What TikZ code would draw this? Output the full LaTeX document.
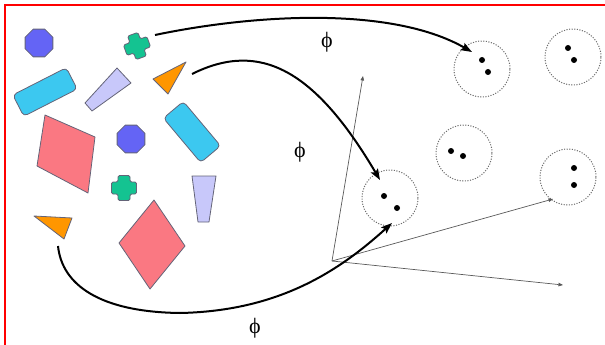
\documentclass[tikz,border=0pt]{standalone}
\usepackage{fontspec}
\setmainfont{Liberation Serif}
\usetikzlibrary{shapes.geometric,arrows.meta,calc}
\definecolor{octblue}{RGB}{100,100,245}
\definecolor{crossgreen}{RGB}{20,195,145}
\definecolor{barcyan}{RGB}{60,200,240}
\definecolor{trapviolet}{RGB}{200,200,250}
\definecolor{triorange}{RGB}{255,150,0}
\definecolor{quadpink}{RGB}{250,120,130}
\definecolor{edgegray}{RGB}{100,100,120}
\begin{document}
\begin{tikzpicture}[x=1pt,y=-1pt,
 shapeline/.style={draw=edgegray, line width=0.8pt, line join=round},
 octa/.style={shapeline, fill=octblue, regular polygon, regular polygon sides=8, minimum size=30pt, inner sep=0pt},
 bar/.style={shapeline, fill=barcyan, rectangle, rounded corners=4pt, minimum width=60pt, minimum height=24pt, inner sep=0pt},
 cluster/.style={circle, draw=gray!85!black, line width=1pt, dash pattern=on 1.1pt off 1.5pt, minimum size=56pt, inner sep=0pt},
 dotmark/.style={circle, fill=black, inner sep=0pt, minimum size=6pt},
 mapping/.style={line width=2pt, -{Stealth[length=11pt,width=8pt,inset=2pt]}},
 axisline/.style={draw=gray!70!black, line width=0.7pt, -{Triangle[length=4.5pt,width=3.5pt]}},
 philabel/.style={font=\fontsize{22}{22}\selectfont, inner sep=0pt}]
\useasboundingbox (0,0) rectangle (605,345);
% red frame (top and left)
\draw[red, line width=2.5pt] (5,345) -- (5,5.2) -- (605,5.2);

% shapes
\node[octa] (oct1) at (39,43) {};
\node[octa] (oct2) at (131,139) {};
\node[bar, rotate=27] (bar1) at (45,92) {};
\node[bar, rotate=-50, minimum width=58pt, minimum height=26pt] (bar2) at (192,132) {};
\begin{scope}[shift={(137,46)}, rotate=20]
  \filldraw[shapeline, fill=crossgreen, rounded corners=1.5pt]
   (-5.5,-12.5) -- (5.5,-12.5) -- (5.5,-5.5) -- (12.5,-5.5) -- (12.5,5.5) -- (5.5,5.5)
   -- (5.5,12.5) -- (-5.5,12.5) -- (-5.5,5.5) -- (-12.5,5.5) -- (-12.5,-5.5) -- (-5.5,-5.5) -- cycle;
\end{scope}
\begin{scope}[shift={(124,188)}]
  \filldraw[shapeline, fill=crossgreen, rounded corners=1.5pt]
   (-6,-12.5) -- (6,-12.5) -- (6,-6) -- (12.5,-6) -- (12.5,6) -- (6,6)
   -- (6,12.5) -- (-6,12.5) -- (-6,6) -- (-12.5,6) -- (-12.5,-6) -- (-6,-6) -- cycle;
\end{scope}
\filldraw[shapeline, fill=trapviolet] (117,68) -- (131,83) -- (92,111) -- (85,103) -- cycle;
\filldraw[shapeline, fill=trapviolet] (192,176) -- (216,176) -- (209,222) -- (198,222) -- cycle;
\filldraw[shapeline, fill=triorange] (153,79) -- (186,62) -- (168,94) -- cycle;
\filldraw[shapeline, fill=triorange] (34,216) -- (72,218) -- (64,239) -- cycle;
\filldraw[shapeline, fill=quadpink] (45,115) -- (95,137) -- (88,193) -- (37,166) -- cycle;
\filldraw[shapeline, fill=quadpink] (154,200) -- (185,246) -- (150,289) -- (119,243) -- cycle;

% feature space clusters
\node[cluster] (c1) at (482,69) {};
\node[cluster] (c2) at (573,57) {};
\node[cluster] (c3) at (464,153) {};
\node[cluster] (c4) at (568,177) {};
\node[cluster] (c5) at (390,198) {};
\node[dotmark] (d11) at (482,60) {};
\node[dotmark] (d12) at (488,72) {};
\node[dotmark] (d21) at (568,48) {};
\node[dotmark] (d22) at (574,60) {};
\node[dotmark] (d31) at (451,151) {};
\node[dotmark] (d32) at (463,156) {};
\node[dotmark] (d41) at (574,168) {};
\node[dotmark] (d42) at (574,185) {};
\node[dotmark] (d51) at (384,196) {};
\node[dotmark] (d52) at (397,208) {};

% axes
\coordinate (o) at (332,261);
\coordinate (ax1) at (363,76);
\coordinate (ax2) at (553,199);
\coordinate (ax3) at (563,285);
\draw[axisline] (o) -- (ax1);
\draw[axisline] (o) -- (ax2);
\draw[axisline] (o) -- (ax3);

% mappings
\coordinate (s1) at (155,35);
\coordinate (s2) at (192,74);
\coordinate (s3) at (58,246);
\coordinate (e1) at ($(c1)+(-10,-17)$);
\coordinate (e2) at ($(c5)+(-10,-18)$);
\coordinate (e3) at ($(c5)+(2,25)$);
\coordinate (m3) at (180,313);
\draw[mapping] (s1) .. controls (250,15) and (390,5) .. (e1);
\draw[mapping] (s2) .. controls (260,40) and (315,70) .. (e2);
\draw[mapping] (s3) .. controls (62,285) and (100,312) .. (m3)
   .. controls (280,311) and (340,270) .. (e3);

\node[philabel] (p1) at (327,42) {ϕ};
\node[philabel] (p2) at (300,152) {ϕ};
\node[philabel] (p3) at (255,328) {ϕ};
\end{tikzpicture}
\end{document}
